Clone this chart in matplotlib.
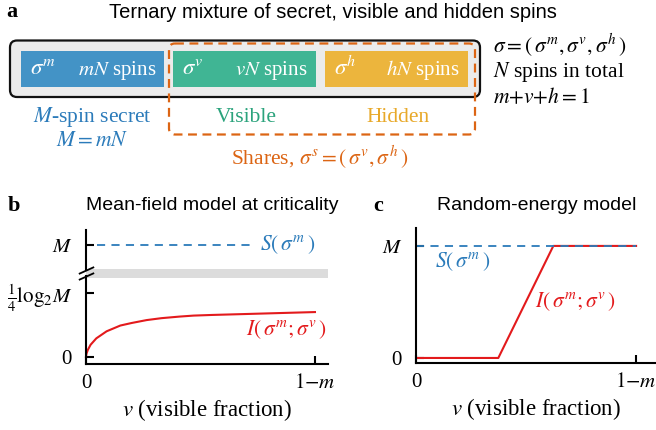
import numpy as np
import matplotlib
matplotlib.use("Agg")
import matplotlib.pyplot as plt
from matplotlib.patches import FancyBboxPatch

plt.rcParams['font.family'] = 'serif'
plt.rcParams['font.serif'] = ['Liberation Serif', 'DejaVu Serif']
plt.rcParams['mathtext.fontset'] = 'stix'

# colours
BLUE = '#2b7bba'
RED = '#e31a1c'
GREEN = '#2ba37c'
YELLOW = '#e8a92a'
ORANGE = '#dc6514'

# ---- data, panel b (mean-field model at criticality) ----
v_mf = [0, 0.002, 0.008, 0.02, 0.045, 0.09, 0.15, 0.2, 0.265, 0.33, 0.41, 0.47,
        0.55, 0.702, 0.85, 1.0]
I_mf = [0, 0.05, 0.11, 0.19, 0.29, 0.40, 0.49, 0.53, 0.575, 0.605, 0.63, 0.645,
        0.655, 0.67, 0.685, 0.70]
S_mf_v = [0.05, 0.72]
S_mf = 1.75                    # level "M"
quarter_log = 1.0              # level "1/4 log2 M"
band_mf = (1.23, 1.375)        # grey break band
ytick_mf = [0, quarter_log, S_mf]
ylab_mf = ['0', r'$\frac{1}{4}\log_2\!M$', r'$M$']

# ---- data, panel c (random-energy model) ----
v_rem = [0, 0.374, 0.624, 1.0]
I_rem = [0, 0, 1.0, 1.0]
S_rem_v = [0, 1.0]
S_rem = 1.0
ytick_rem = [0, S_rem]
ylab_rem = ['0', r'$M$']

xtick = [0, 1]
xlab = ['0', r'$1{-}m$']

S_lab = r'$S(\,\sigma^m\,)$'
I_lab = r'$I(\,\sigma^m;\sigma^v\,)$'

fig = plt.figure(figsize=(6.56, 4.30), dpi=100)


def style(ax):
    for s in ['top', 'right']:
        ax.spines[s].set_visible(False)
    for s in ['left', 'bottom']:
        ax.spines[s].set_linewidth(1.5)
    ax.tick_params(direction='in', length=6, width=1.5, labelsize=15, pad=7)
    ax.tick_params(axis='y', pad=10)
    ax.set_xticks(xtick)
    ax.set_xticklabels(xlab)
    ax.set_xlabel(r'$v$ (visible fraction)', fontsize=16.5, labelpad=3)


# panel b
axb = fig.add_axes([86/656, 1-364/430, (328-86)/656, (364-230)/430])
style(axb)
axb.set_xlim(0, 1.057)
axb.set_ylim(-0.11, 1.98)
axb.axhspan(*band_mf, color='#dcdcdc', lw=0, zorder=0)
axb.plot(v_mf, I_mf, color=RED, lw=1.5, clip_on=False)
axb.plot(S_mf_v, [S_mf, S_mf], color=BLUE, lw=1.3, ls=(0, (4.5, 3.5)))
axb.set_yticks(ytick_mf)
axb.set_yticklabels(ylab_mf)
# broken y axis
axb.spines['left'].set_visible(False)
axb.plot([0, 0], [-0.11, band_mf[0] + 0.04], color='k', lw=1.5, clip_on=False)
axb.plot([0, 0], [band_mf[1] - 0.015, 1.98], color='k', lw=1.5, clip_on=False)
for yb in [band_mf[0] + 0.04, band_mf[1] - 0.015]:
    axb.plot([0], [yb], marker=[(-1, -0.45), (1, 0.45)], markersize=11,
             color='k', mew=1.3, clip_on=False)
axb.text(0.76, S_mf, S_lab, color=BLUE, fontsize=15.5, va='center')
axb.text(1.05, 0.42, I_lab, color=RED, fontsize=15.5, va='center', ha='right')

# panel c
axc = fig.add_axes([416/656, 1-363/430, (655-416)/656, (363-228)/430])
style(axc)
axc.set_xlim(0, 1.086)
axc.set_ylim(-0.045, 1.16)
axc.plot(v_rem, I_rem, color=RED, lw=1.5)
axc.plot(S_rem_v, [S_rem, S_rem], color=BLUE, lw=1.3, ls=(0, (4.5, 3.5)))
axc.set_yticks(ytick_rem)
axc.set_yticklabels(ylab_rem)
axc.text(0.086, 0.86, S_lab, color=BLUE, fontsize=15.5, va='center')
axc.text(0.54, 0.5, I_lab, color=RED, fontsize=15.5, va='center')

# panel a: schematic, drawn in pixel coordinates
ov = fig.add_axes([0, 0, 1, 1])
ov.set_xlim(0, 656)
ov.set_ylim(430, 0)
ov.axis('off')

ov.add_patch(FancyBboxPatch((10, 40.5), 470, 56.5, boxstyle='round,pad=0,rounding_size=7',
                            fc='#ebebeb', ec='#111111', lw=1.6))
boxes = [(21, '#4393c6', r'$\sigma^m$', r'$mN$ spins'),
         (173, '#40b594', r'$\sigma^v$', r'$vN$ spins'),
         (325, '#ecb53d', r'$\sigma^h$', r'$hN$ spins')]
for x0, c, sym, txt in boxes:
    ov.add_patch(FancyBboxPatch((x0, 51), 143, 36, boxstyle='square,pad=0',
                                fc=c, ec='none'))
    ov.text(x0 + 9, 68, sym, color='white', fontsize=16.5, va='center', ha='left')
    ov.text(x0 + 135, 70, txt, color='white', fontsize=15, va='center', ha='right')

ov.add_patch(FancyBboxPatch((169, 43.5), 306, 91, boxstyle='round,pad=0,rounding_size=6',
                            fc='none', ec=ORANGE, lw=1.6, ls=(0, (4, 2.5))))

ov.text(92, 117, r'$M$-spin secret', color=BLUE, fontsize=15.5, ha='center', va='center')
ov.text(92, 142, r'$M = mN$', color=BLUE, fontsize=15.5, ha='center', va='center')
ov.text(246, 117, 'Visible', color=GREEN, fontsize=15.5, ha='center', va='center')
ov.text(398, 117, 'Hidden', color=YELLOW, fontsize=15.5, ha='center', va='center')
ov.text(320, 157, r'Shares, $\sigma^s = (\,\sigma^v,\sigma^h\,)$', color=ORANGE,
        fontsize=15.5, ha='center', va='center')

ov.text(493, 45, r'$\sigma = (\,\sigma^m,\sigma^v,\sigma^h\,)$', fontsize=15.5, va='center')
ov.text(493, 72, r'$N$ spins in total', fontsize=15.5, va='center')
ov.text(493, 98, r'$m{+}v{+}h = 1$', fontsize=15.5, va='center')

# titles and panel letters
ov.text(6, 12, 'a', fontsize=16, fontweight='bold', va='center')
ov.text(333, 12, 'Ternary mixture of secret, visible and hidden spins',
        family='Liberation Sans', fontsize=14.5, ha='center', va='center')
ov.text(8, 206, 'b', fontsize=16, fontweight='bold', va='center')
ov.text(212, 206, 'Mean-field model at criticality',
        family='Liberation Sans', fontsize=14, ha='center', va='center')
ov.text(373, 206, 'c', fontsize=16, fontweight='bold', va='center')
ov.text(537, 206, 'Random-energy model',
        family='Liberation Sans', fontsize=14, ha='center', va='center')

fig.savefig('out.png', dpi=100)
